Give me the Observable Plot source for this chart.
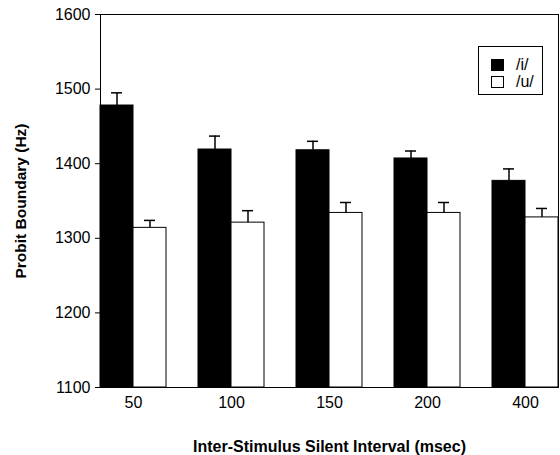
<!DOCTYPE html>
<html>
<head>
<meta charset="utf-8">
<script src="https://cdn.jsdelivr.net/npm/d3@7"></script>
<script src="https://cdn.jsdelivr.net/npm/@observablehq/plot@0.6"></script>
<style>
  html, body { margin: 0; padding: 0; background: white; }
  #wrap { position: relative; width: 560px; height: 455px; }
  #wrap g[aria-label$="-axis label"] { font-weight: bold; }
  #wrap g[aria-label="fx-axis label"] { font-size: 16px; }
  #wrap g[aria-label="y-axis label"] { font-size: 15.5px; }
  #legend {
    position: absolute; left: 478px; top: 46px; width: 63px; height: 47px;
    border: 1px solid black; background: white;
    font-family: 'Liberation Sans', Arial, sans-serif; font-size: 16px; color: black;
  }
  .row { position: absolute; left: 12px; height: 14px; display: flex; align-items: center; }
  .sw { width: 11px; height: 10px; border: 1px solid black; margin-right: 12px; }
</style>
</head>
<body>
<div id="wrap"></div>
<script>
const intervals = ["50", "100", "150", "200", "400"];
const vowels = ["/i/", "/u/"];
const iValues = [1478, 1419, 1418, 1407, 1377];
const iErrors = [17, 18, 12, 10, 16];
const uValues = [1314, 1321, 1334, 1334, 1328];
const uErrors = [10, 16, 14, 14, 12];
const yTicks = [1100, 1200, 1300, 1400, 1500, 1600];
const vowelFill = ["black", "white"];
const yBase = 1100;

const data = [];
intervals.forEach((g, k) => {
  data.push({interval: g, vowel: vowels[0], value: iValues[k], err: iErrors[k]});
  data.push({interval: g, vowel: vowels[1], value: uValues[k], err: uErrors[k]});
});

const chart = Plot.plot({
  width: 560,
  height: 455,
  marginLeft: 99,
  marginRight: 1,
  marginTop: 14,
  marginBottom: 68,
  style: {fontFamily: "'Liberation Sans', Arial, sans-serif", fontSize: "16px", color: "black", background: "white"},
  fx: {domain: intervals, paddingInner: 0.33, paddingOuter: 0, tickSize: 0, tickPadding: 9,
       label: "Inter-Stimulus Silent Interval (msec)", labelAnchor: "center", labelOffset: 64, labelArrow: "none"},
  x: {domain: vowels, padding: 0, axis: null},
  y: {domain: [1100, 1600], ticks: yTicks, tickFormat: d => String(d), tickSize: 5, tickPadding: 5,
      label: "Probit Boundary (Hz)", labelAnchor: "center", labelOffset: 86, labelArrow: "none"},
  color: {domain: vowels, range: vowelFill},
  marks: [
    Plot.barY(data, {fx: "interval", x: "vowel", y1: yBase, y2: "value", fill: "vowel", stroke: "black", strokeWidth: 1}),
    Plot.ruleX(data, {fx: "interval", x: "vowel", y1: "value", y2: d => d.value + d.err, stroke: "black", strokeWidth: 1.5}),
    Plot.tickY(data, {fx: "interval", x: "vowel", y: d => d.value + d.err, stroke: "black", strokeWidth: 1.5, insetLeft: 11, insetRight: 11}),
    Plot.frame({facet: "super", stroke: "black", strokeWidth: 1})
  ]
});
document.getElementById("wrap").appendChild(chart);

const legend = document.createElement("div");
legend.id = "legend";
vowels.forEach((v, k) => {
  const row = document.createElement("div");
  row.className = "row";
  row.style.top = (11 + k * 17) + "px";
  const sw = document.createElement("div");
  sw.className = "sw";
  sw.style.background = vowelFill[k];
  const lab = document.createElement("span");
  lab.textContent = v;
  row.appendChild(sw);
  row.appendChild(lab);
  legend.appendChild(row);
});
document.getElementById("wrap").appendChild(legend);
</script>
</body>
</html>
